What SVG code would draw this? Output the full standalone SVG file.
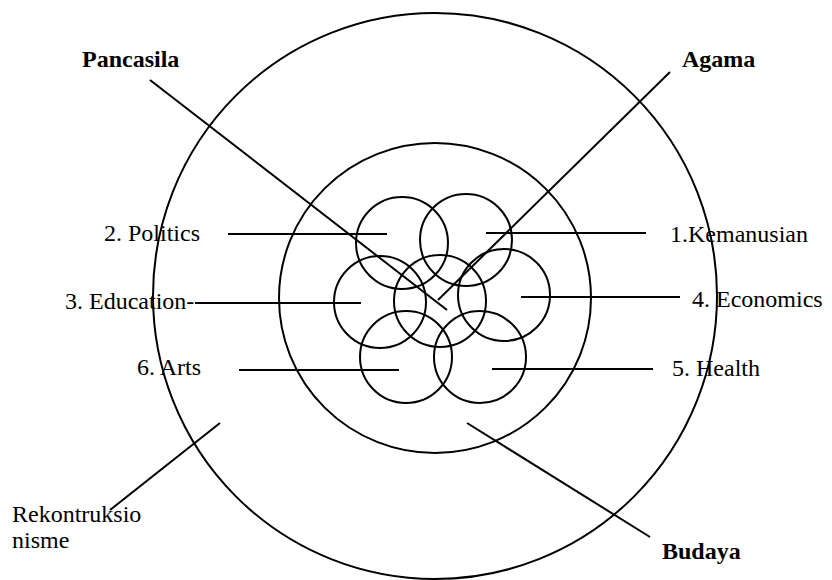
<svg xmlns="http://www.w3.org/2000/svg" width="832" height="580" viewBox="0 0 832 580">
<style>
.c{fill:none;stroke:#000;stroke-width:2}
.l{stroke:#000;stroke-width:2;fill:none}
.t{font-family:"Liberation Serif","Times New Roman",serif;font-size:24px;fill:#000}
.b{font-family:"Liberation Serif","Times New Roman",serif;font-size:24px;font-weight:bold;fill:#000}
</style>
<rect width="832" height="580" fill="#fff"/>
<g id="outer"><ellipse class="c" cx="435" cy="296" rx="282" ry="283"/></g>
<g id="inner"><ellipse class="c" cx="435" cy="298" rx="156" ry="155"/></g>
<g id="kemanusian"><circle class="c" cx="466" cy="240" r="46"/><text class="t" x="670" y="242">1.Kemanusian</text></g>
<g id="politics"><circle class="c" cx="402" cy="243" r="46"/><text class="t" x="104" y="241">2. Politics</text></g>
<g id="education"><circle class="c" cx="380" cy="302" r="46"/><text class="t" x="65" y="309">3. Education-</text></g>
<g id="center"><circle class="c" cx="440" cy="301" r="46"/></g>
<g id="economics"><circle class="c" cx="504" cy="295" r="46"/><text class="t" x="692" y="307">4.  Economics</text></g>
<g id="arts"><circle class="c" cx="406" cy="357" r="46"/><text class="t" x="137" y="375">6. Arts</text></g>
<g id="health"><circle class="c" cx="480" cy="357" r="46"/><text class="t" x="672" y="376">5. Health</text></g>
<g id="pancasila"><text class="b" x="82" y="67">Pancasila</text></g>
<g id="agama"><text class="b" x="682" y="67">Agama</text></g>
<g id="budaya"><text class="b" x="662" y="559">Budaya</text></g>
<g id="rekontruksionisme"><text class="t" x="12" y="522">Rekontruksio</text><text class="t" x="12" y="548">nisme</text></g>
<g id="connectors">
<line class="l" x1="228" y1="234" x2="387" y2="234"/>
<line class="l" x1="486" y1="233" x2="646" y2="233"/>
<line class="l" x1="195" y1="303" x2="361" y2="303"/>
<line class="l" x1="521" y1="297" x2="680" y2="297"/>
<line class="l" x1="239" y1="370" x2="399" y2="370"/>
<line class="l" x1="492" y1="369" x2="653" y2="369"/>
<line class="l" x1="150" y1="80" x2="447" y2="310"/>
<line class="l" x1="670" y1="72" x2="438" y2="300"/>
<line class="l" x1="220" y1="423" x2="110" y2="510"/>
<line class="l" x1="467" y1="423" x2="650" y2="537"/>
</g>
</svg>
